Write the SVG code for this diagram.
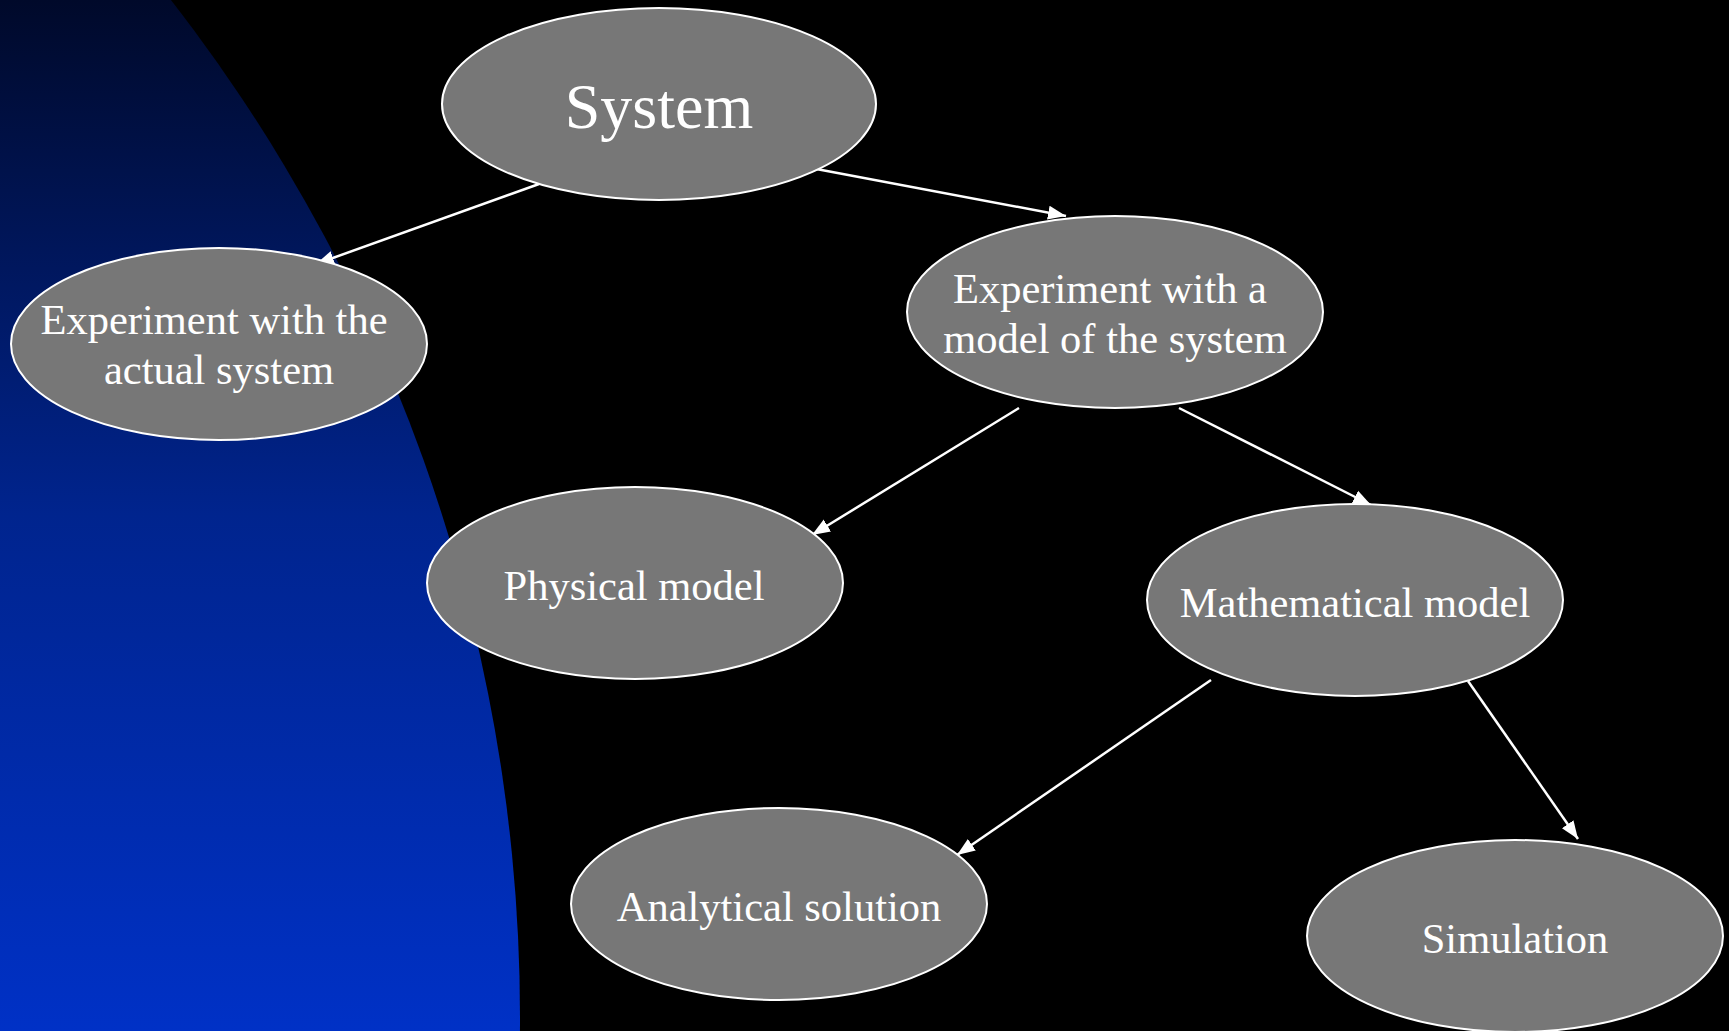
<svg xmlns="http://www.w3.org/2000/svg" width="1729" height="1031" viewBox="0 0 1729 1031">
  <defs>
    <linearGradient id="blueGrad" x1="0" y1="0" x2="0" y2="1031" gradientUnits="userSpaceOnUse">
      <stop offset="0" stop-color="#00092a"/>
      <stop offset="0.5" stop-color="#00248e"/>
      <stop offset="1" stop-color="#0031c6"/>
    </linearGradient>
    <marker id="arrow" markerUnits="userSpaceOnUse" markerWidth="20" markerHeight="16" refX="18" refY="8" orient="auto">
      <path d="M0,1 L18,8 L0,15 Z" fill="#ffffff"/>
    </marker>
    <style>
      .node ellipse { fill: #777777; stroke: #ffffff; stroke-width: 2; }
      .node text { fill: #ffffff; font-family: "Liberation Serif", "Times New Roman", serif; font-size: 42.5px; text-anchor: middle; }
      .node text.big { font-size: 64px; }
      #connectors line { stroke: #ffffff; stroke-width: 2.5; marker-end: url(#arrow); }
    </style>
  </defs>

  <!-- background -->
  <rect x="0" y="0" width="1729" height="1031" fill="#000000"/>
  <circle cx="-1136" cy="1017" r="1656" fill="url(#blueGrad)"/>

  <!-- connectors -->
  <g id="connectors">
    <line x1="539" y1="184" x2="316" y2="264"/>
    <line x1="811" y1="168" x2="1066" y2="216"/>
    <line x1="1019" y1="408" x2="812" y2="535"/>
    <line x1="1179" y1="408" x2="1371" y2="505"/>
    <line x1="1211" y1="680" x2="957" y2="855"/>
    <line x1="1468" y1="681" x2="1578" y2="839"/>
  </g>

  <!-- nodes -->
  <g id="node-system" class="node">
    <ellipse cx="659" cy="104" rx="217" ry="96"/>
    <text class="big" x="659" y="128">System</text>
  </g>
  <g id="node-actual" class="node">
    <ellipse cx="219" cy="344" rx="208" ry="96"/>
    <text x="214" y="334">Experiment with the</text>
    <text x="219" y="384">actual system</text>
  </g>
  <g id="node-model" class="node">
    <ellipse cx="1115" cy="312" rx="208" ry="96"/>
    <text x="1110" y="303">Experiment with a</text>
    <text x="1115" y="353">model of the system</text>
  </g>
  <g id="node-physical" class="node">
    <ellipse cx="635" cy="583" rx="208" ry="96"/>
    <text x="634" y="600">Physical model</text>
  </g>
  <g id="node-math" class="node">
    <ellipse cx="1355" cy="600" rx="208" ry="96"/>
    <text x="1355" y="617">Mathematical model</text>
  </g>
  <g id="node-analytical" class="node">
    <ellipse cx="779" cy="904" rx="208" ry="96"/>
    <text x="779" y="921">Analytical solution</text>
  </g>
  <g id="node-simulation" class="node">
    <ellipse cx="1515" cy="936" rx="208" ry="96"/>
    <text x="1515" y="953">Simulation</text>
  </g>
</svg>
